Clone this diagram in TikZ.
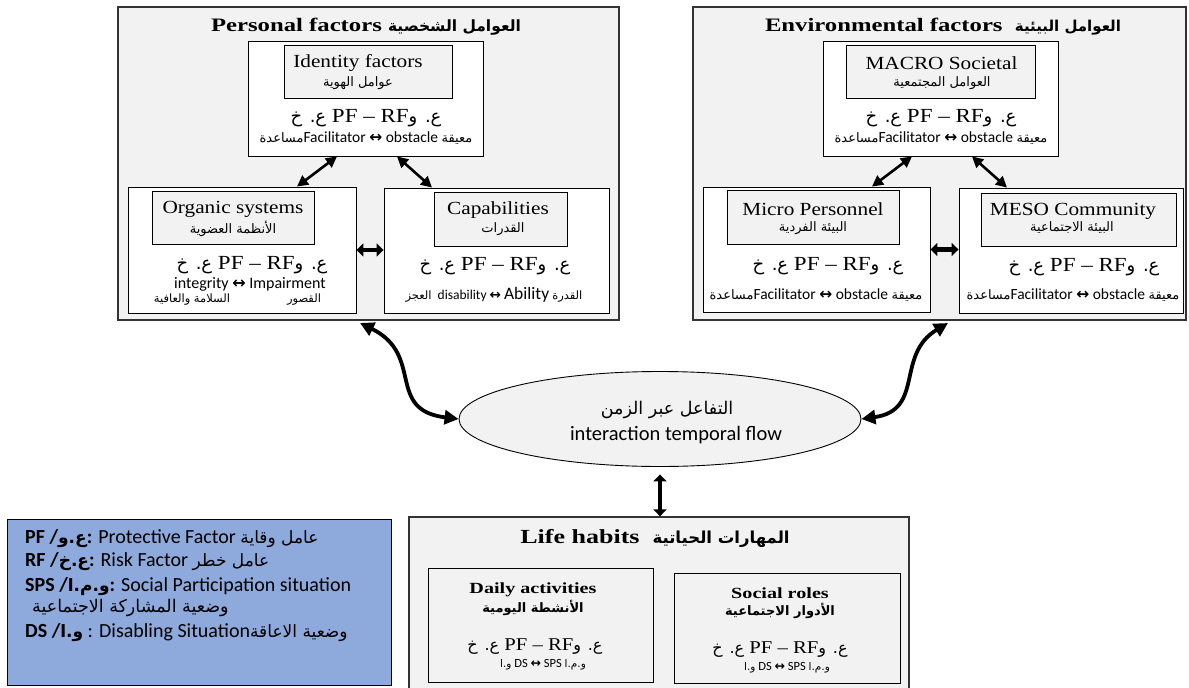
\documentclass[tikz,border=0pt]{standalone}
\usepackage{fontspec}
\usetikzlibrary{arrows.meta,shapes.geometric}
\setmainfont{Liberation Serif}
\newfontfamily\calf{Carlito}
\newfontfamily\arf[Script=Arabic]{DejaVu Sans}
\newfontfamily\titlef[FakeStretch=1.3]{Liberation Serif}
\newfontfamily\boxf[FakeStretch=1.15]{Liberation Serif}
\newfontfamily\symf{DejaVu Sans}
\TeXXeTstate=1
\definecolor{lightg}{HTML}{F2F2F2}
\definecolor{legblue}{HTML}{8EA9DB}
\newcommand{\fs}[1]{\fontsize{#1}{#1}\selectfont}
\newcommand{\AR}[1]{{\arf\beginR #1\endR}}
\newcommand{\dar}{{\symf\bfseries ↔}}
\newcommand{\formula}[2]{{\fs{#1}\boxf\AR{\fs{#2}ع. خ} PF – RF\AR{\fs{#2}ع. و}}}
\newcommand{\facil}{{\fs{15.5}\calf\AR{\fs{13}مساعدة}Facilitator \dar{} obstacle \AR{\fs{13}معيقة}}}
\newcommand{\dsline}{{\fs{12.5}\calf\AR{\fs{10.5}و.ا} DS \dar{} SPS \AR{\fs{10.5}و.م.ا}}}
\begin{document}
\begin{tikzpicture}[x=1pt,y=-1pt,
 outer/.style={draw=black!80,line width=1.3pt,fill=lightg,inner sep=0pt},
 wbox/.style={draw=black,line width=0.9pt,fill=white,inner sep=0pt},
 gbox/.style={draw=black,line width=0.9pt,fill=lightg,inner sep=0pt},
 txt/.style={inner sep=0pt},
 diag/.style={{Triangle[length=11pt,width=11pt]}-{Triangle[length=11pt,width=11pt]},line width=2.6pt},
 hdbl/.style={{Triangle[length=7pt,width=13pt]}-{Triangle[length=7pt,width=13pt]},line width=4.8pt},
 curv/.style={{Triangle[length=14pt,width=14pt]}-{Triangle[length=14pt,width=14pt]},line width=3.8pt},
]
\useasboundingbox (0,0) rectangle (1189,688);

% ---------- Personal factors ----------
\node[outer,minimum width=501pt,minimum height=313pt] (perso) at (368.5,163.5) {};
\node[txt] (ptitle) at (366,27) {\fs{19}\titlef\bfseries Personal factors \AR{\fs{15.5}\bfseries العوامل الشخصية}};

\node[wbox,minimum width=235pt,minimum height=115pt] (idw) at (365.5,98.5) {};
\node[gbox,minimum width=168pt,minimum height=53pt] (idg) at (368,71.5) {};
\node[txt] (idt1) at (358,63) {\fs{18.5}\boxf Identity factors};
\node[txt] (idt2) at (358,83) {\AR{\fs{13}عوامل الهوية}};
\node[txt] (idf) at (366,118) {\formula{20}{18}};
\node[txt] (idl) at (366,138) {\facil};

\node[wbox,minimum width=228pt,minimum height=126pt] (org) at (242,250) {};
\node[gbox,minimum width=162pt,minimum height=53pt] (orgg) at (233,217.5) {};
\node[txt] (orgt1) at (233,209) {\fs{18.5}\boxf Organic systems};
\node[txt] (orgt2) at (233,229) {\AR{\fs{13}الأنظمة العضوية}};
\node[txt] (orgf) at (252,265) {\formula{20}{18}};
\node[txt] (orgl) at (250,284) {\fs{16}\calf integrity \dar{} Impairment};
\node[txt] (orgl2) at (192,300) {\AR{\fs{11.5}السلامة والعافية}};
\node[txt] (orgl3) at (304,300) {\AR{\fs{11.5}القصور}};

\node[wbox,minimum width=225pt,minimum height=125pt] (cap) at (496.5,250.5) {};
\node[gbox,minimum width=133pt,minimum height=54pt] (capg) at (500.5,219) {};
\node[txt] (capt1) at (498,210) {\fs{18.5}\boxf Capabilities};
\node[txt] (capt2) at (503,229) {\AR{\fs{13}القدرات}};
\node[txt] (capf) at (495,266) {\formula{20}{18}};
\node[txt] (capl) at (494,295) {\fs{13.5}\calf\AR{\fs{11.5}العجز}\ \ disability \dar{} {\fs{17.5}Ability} \AR{\fs{11.5}القدرة}};

\draw[diag] ([xshift=-28.5pt]idw.south) -- ([xshift=55pt]org.north);
\draw[diag] ([xshift=31.5pt]idw.south) -- ([xshift=-64.5pt]cap.north);
\draw[hdbl] (org.east) -- (org.east -| cap.west);

% ---------- Environmental factors ----------
\node[outer,minimum width=493pt,minimum height=313pt] (env) at (939.5,163.5) {};
\node[txt] (etitle) at (943,27) {\fs{19}\titlef\bfseries Environmental factors\ \ \AR{\fs{15}\bfseries العوامل البيئية}};

\node[wbox,minimum width=235pt,minimum height=115pt] (mac) at (940.5,98.5) {};
\node[gbox,minimum width=189pt,minimum height=53pt] (macg) at (940.5,71.5) {};
\node[txt] (mact1) at (941.5,63) {\fs{18.5}\boxf MACRO Societal};
\node[txt] (mact2) at (942,83) {\AR{\fs{13}العوامل المجتمعية}};
\node[txt] (macf) at (941,118) {\formula{20}{18}};
\node[txt] (macl) at (941,138) {\facil};

\node[wbox,minimum width=227pt,minimum height=125pt] (mic) at (816.5,249.5) {};
\node[gbox,minimum width=172pt,minimum height=54pt] (micg) at (813,217) {};
\node[txt] (mict1) at (813,209) {\fs{18.5}\boxf Micro Personnel};
\node[txt] (mict2) at (813,228) {\AR{\fs{13}البيئة الفردية}};
\node[txt] (micf) at (828,266) {\formula{20}{18}};
\node[txt] (micl) at (816,295) {\facil};

\node[wbox,minimum width=224pt,minimum height=125pt] (mes) at (1071,250.5) {};
\node[gbox,minimum width=195pt,minimum height=53pt] (mesg) at (1078.5,219.5) {};
\node[txt] (mest1) at (1073,211) {\fs{18.5}\boxf MESO Community};
\node[txt] (mest2) at (1072,228) {\AR{\fs{13}البيئة الاجتماعية}};
\node[txt] (mesf) at (1084,267) {\formula{20}{18}};
\node[txt] (mesl) at (1073,295) {\facil};

\draw[diag] ([xshift=-28.5pt]mac.south) -- ([xshift=55.5pt]mic.north);
\draw[diag] ([xshift=31.5pt]mac.south) -- ([xshift=-64pt]mes.north);
\draw[hdbl] (mic.east) -- (mic.east -| mes.west);

% ---------- Interaction ellipse ----------
\node[ellipse,draw=black,line width=0.9pt,fill=lightg,minimum width=402pt,minimum height=95pt,inner sep=0pt] (ell) at (660,419) {};
\node[txt] (ellt1) at (667,410) {\AR{\fs{17.5}التفاعل عبر الزمن}};
\node[txt] (ellt2) at (676,435) {\fs{20.5}\calf interaction temporal flow};

\coordinate (pL) at (360,323);
\coordinate (pR) at (948,323);
\draw[curv] (pL) .. controls (425,355) and (385,410) .. (ell.west);
\draw[curv] (pR) .. controls (895,355) and (925,410) .. (ell.east);

% ---------- Life habits ----------
\node[outer,minimum width=500pt,minimum height=173pt] (life) at (659,603.5) {};
\draw[hdbl,shorten <=7.5pt] (ell.south) -- (ell.south |- life.north);
\node[txt] (ltitle) at (655,538) {\fs{20}\titlef\bfseries Life habits\ \ \AR{\fs{16.5}\bfseries المهارات الحياتية}};

\node[gbox,minimum width=225pt,minimum height=114pt] (daily) at (540.5,625) {};
\node[txt] (dt1) at (533,590) {\fs{15.5}\titlef\bfseries Daily activities};
\node[txt] (dt2) at (533,608) {\AR{\fs{13}\bfseries الأنشطة اليومية}};
\node[txt] (df) at (535,647) {\formula{18}{16}};
\node[txt] (dl) at (543,665) {\dsline};

\node[gbox,minimum width=226pt,minimum height=110pt] (soc) at (787,628) {};
\node[txt] (st1) at (780,593) {\fs{15.5}\titlef\bfseries Social roles};
\node[txt] (st2) at (780,611) {\AR{\fs{13}\bfseries الأدوار الاجتماعية}};
\node[txt] (sf) at (780,650) {\formula{18}{16}};
\node[txt] (sl) at (787,668) {\dsline};

% ---------- Legend ----------
\node[draw=black,line width=1pt,fill=legblue,minimum width=384pt,minimum height=166pt,inner sep=0pt] (leg) at (199,602) {};
\node[txt,anchor=west] (lg1) at (25,539) {\fs{20}\calf{\bfseries PF /\AR{\fs{17}ع.و}:} Protective Factor \AR{\fs{17}عامل وقاية}};
\node[txt,anchor=west] (lg2) at (25,562) {\fs{20}\calf{\bfseries RF /\AR{\fs{17}ع.خ}:} Risk Factor \AR{\fs{17}عامل خطر}};
\node[txt,anchor=west] (lg3) at (25,587) {\fs{20}\calf{\bfseries SPS /\AR{\fs{17}و.م.ا}:} Social Participation situation};
\node[txt,anchor=west] (lg4) at (32,608) {\AR{\fs{17.5}وضعية المشاركة الاجتماعية}};
\node[txt,anchor=west] (lg5) at (25,633) {\fs{20}\calf{\bfseries DS /\AR{\fs{17}و.ا}} : Disabling Situation\AR{\fs{17}وضعية الاعاقة}};
\end{tikzpicture}
\end{document}
